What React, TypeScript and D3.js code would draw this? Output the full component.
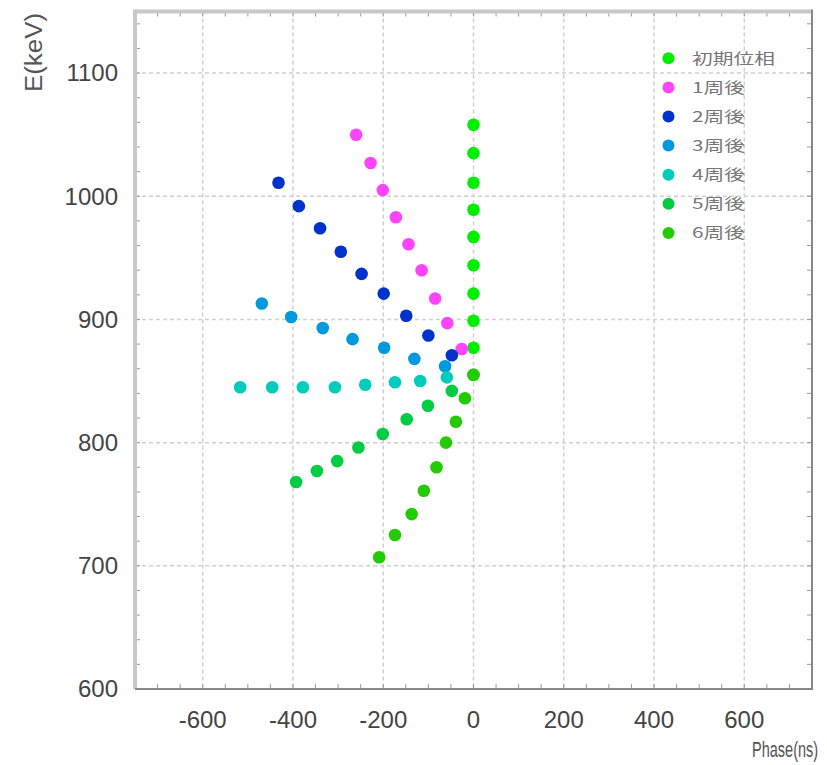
import React from "react";
import * as d3 from "d3";

const seriesNames = ["初期位相", "1周後", "2周後", "3周後", "4周後", "5周後", "6周後"];
const seriesColors = ["#00ee00", "#ff44ff", "#0033cc", "#0099dd", "#00ccbb", "#00cc44", "#22cc00"];

const initPhase = [0, 0, 0, 0, 0, 0, 0, 0, 0, 0];
const initE = [1058, 1035, 1011, 989, 967, 944, 921, 899, 877, 855];

const turn1Phase = [-260, -228, -201, -172, -144, -115, -85, -58, -26];
const turn1E = [1050, 1027, 1005, 983, 961, 940, 917, 897, 876];

const turn2Phase = [-432, -387, -340, -294, -248, -199, -149, -100, -48];
const turn2E = [1011, 992, 974, 955, 937, 921, 903, 887, 871];

const turn3Phase = [-469, -404, -334, -268, -198, -131, -63];
const turn3E = [913, 902, 893, 884, 877, 868, 862];

const turn4Phase = [-517, -446, -378, -307, -240, -174, -118, -59];
const turn4E = [845, 845, 845, 845, 847, 849, 850, 853];

const turn5Phase = [-48, -101, -148, -201, -255, -302, -347, -393];
const turn5E = [842, 830, 819, 807, 796, 785, 777, 768];

const turn6Phase = [0, -19, -39, -61, -82, -110, -137, -174, -209];
const turn6E = [855, 836, 817, 800, 780, 761, 742, 725, 707];

const allPhase = [initPhase, turn1Phase, turn2Phase, turn3Phase, turn4Phase, turn5Phase, turn6Phase];
const allE = [initE, turn1E, turn2E, turn3E, turn4E, turn5E, turn6E];

const xMajorTicks = [-600, -400, -200, 0, 200, 400, 600];
const yMajorTicks = [600, 700, 800, 900, 1000, 1100];

export default function App() {
  const W = 827, H = 765;
  const x = d3.scaleLinear().domain([-750, 750]).range([135, 812]);
  const y = d3.scaleLinear().domain([600, 1150]).range([689, 11.5]);
  const xMinor = d3.range(-750, 751, 50);
  const yMinor = d3.range(600, 1151, 20);
  const L = x.range()[0], R = x.range()[1], B = y.range()[0], T = y.range()[1];
  const font = "'Liberation Sans', Arial, sans-serif";
  const tickLen = 5;

  return (
    <svg width={W} height={H} style={{ position: "absolute", left: 0, top: 0, background: "#fff" }}>
      {/* gridlines */}
      {xMajorTicks.map((t) => (
        <line key={"gx" + t} x1={x(t)} x2={x(t)} y1={T} y2={B} stroke="#d0d0d0" strokeWidth={1.5} strokeDasharray="4,3" />
      ))}
      {yMajorTicks.filter((t) => t > 600).map((t) => (
        <line key={"gy" + t} x1={L} x2={R} y1={y(t)} y2={y(t)} stroke="#d0d0d0" strokeWidth={1.5} strokeDasharray="4,3" />
      ))}
      {/* minor ticks */}
      {xMinor.map((t) => (
        <g key={"tx" + t}>
          <line x1={x(t)} x2={x(t)} y1={B} y2={B - tickLen} stroke="#999" strokeWidth={1} />
          <line x1={x(t)} x2={x(t)} y1={T} y2={T + tickLen} stroke="#999" strokeWidth={1} />
        </g>
      ))}
      {yMinor.map((t) => (
        <g key={"ty" + t}>
          <line x1={L} x2={L + tickLen} y1={y(t)} y2={y(t)} stroke="#999" strokeWidth={1} />
          <line x1={R} x2={R - tickLen} y1={y(t)} y2={y(t)} stroke="#999" strokeWidth={1} />
        </g>
      ))}
      {/* frame */}
      <line x1={L} x2={R} y1={T} y2={T} stroke="#c8c8c8" strokeWidth={4} />
      <line x1={L} x2={L} y1={T - 2} y2={B} stroke="#c8c8c8" strokeWidth={4} />
      <line x1={L} x2={R + 1} y1={B} y2={B} stroke="#888" strokeWidth={2} />
      <line x1={R} x2={R} y1={T - 2} y2={B} stroke="#888" strokeWidth={2} />

      {/* tick labels */}
      {yMajorTicks.map((t) => (
        <text key={"ly" + t} x={118} y={y(t)} dy="0.35em" textAnchor="end" fontFamily={font} fontSize={24} fill="#444">
          {t}
        </text>
      ))}
      {xMajorTicks.map((t) => (
        <text key={"lx" + t} x={x(t)} y={720} dy="0.35em" textAnchor="middle" fontFamily={font} fontSize={24} fill="#444">
          {t}
        </text>
      ))}
      <g transform="translate(752,757) scale(0.66,1)">
        <text x={0} y={0} fontFamily={font} fontSize={22} fill="#555">
          Phase(ns)
        </text>
      </g>
      <text
        transform={`translate(42,92) rotate(-90)`}
        fontFamily={font}
        fontSize={23}
        fill="#555"
        textLength={79}
        lengthAdjust="spacingAndGlyphs"
      >
        E(keV)
      </text>

      {/* points */}
      {allPhase.map((ph, si) => (
        <g key={"s" + si}>
          {ph.map((p, i) => (
            <circle key={i} cx={x(p)} cy={y(allE[si][i])} r={6.3} fill={seriesColors[si]} />
          ))}
        </g>
      ))}

      {/* legend */}
      {seriesNames.map((n, i) => {
        const ly = 58.3 + i * 29.1;
        return (
          <g key={"lg" + i}>
            <circle cx={668.5} cy={ly} r={6} fill={seriesColors[i]} />
            <text
              x={692}
              y={ly}
              dy="0.36em"
              fontFamily="'Noto Sans CJK JP', sans-serif"
              fontSize={15}
              fill="#777"
              textLength={i === 0 ? 83 : 53}
              lengthAdjust="spacingAndGlyphs"
            >
              {n}
            </text>
          </g>
        );
      })}
    </svg>
  );
}
